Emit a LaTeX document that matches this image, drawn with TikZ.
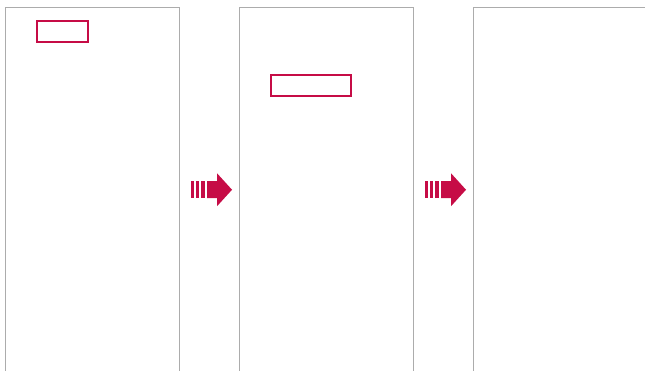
\documentclass[tikz,border=0pt]{standalone}
\usepackage{tikz}
\usetikzlibrary{arrows.meta}

\definecolor{stepred}{RGB}{198,12,70}

\begin{document}
\begin{tikzpicture}[
            x=1pt,
            y=-1pt,
            panel/.style={draw=gray!65, line width=1pt},
            markbox/.style={draw=stepred, line width=1.3pt},
            arrowfill/.style={fill=stepred, draw=none}
        ]

            % --- Definitions ---
            \def\pw{174}   % panel width
            \def\gap{234}  % distance from one panel to the next
            \def\ay{189.75} % arrow centre line

            \useasboundingbox (0,0) rectangle (645,371);

            % --- 1. Panels (open at the bottom) ---
            \foreach \i in {0,1} {
                \draw[panel] (5+\i*\gap,371) -- (5+\i*\gap,8) -- (5+\i*\gap+\pw,8) -- (5+\i*\gap+\pw,371);
            }
            \draw[panel] (473,371) -- (473,8) -- (646,8);

            % --- 2. Highlight boxes ---
            \draw[markbox] (37,21) rectangle (88,42);
            \draw[markbox] (271,75) rectangle (351,96);

            % --- 3. Step arrows between panels ---
            \foreach \i in {0,1} {
                \begin{scope}[xshift=\i*\gap]
                    \fill[arrowfill] (191,\ay-8.5) rectangle (194,\ay+8.5);
                    \fill[arrowfill] (196,\ay-8.5) rectangle (199,\ay+8.5);
                    \fill[arrowfill] (201,\ay-8.5) rectangle (205,\ay+8.5);
                    \fill[arrowfill] (207,\ay-8.5) -- (217,\ay-8.5) -- (217,\ay-16.5)
                        -- (232,\ay) -- (217,\ay+16.5) -- (217,\ay+8.5) -- (207,\ay+8.5) -- cycle;
                \end{scope}
            }

        \end{tikzpicture}
\end{document}
